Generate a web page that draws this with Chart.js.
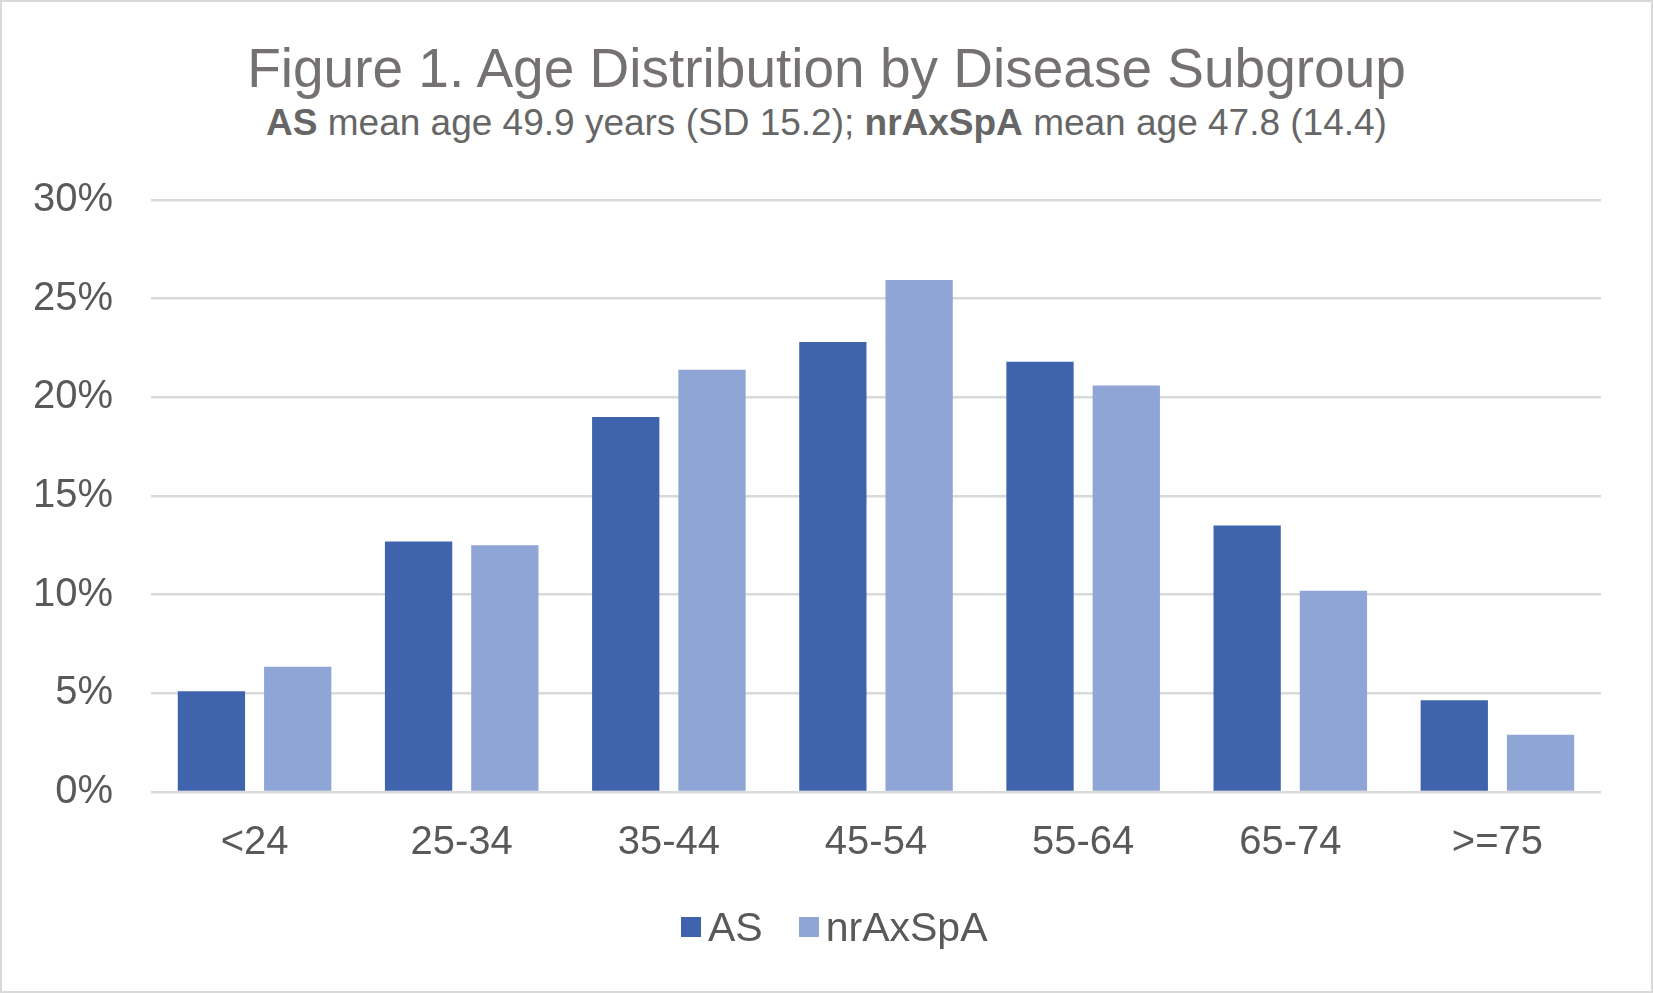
<!DOCTYPE html>
<html>
<head>
<meta charset="utf-8">
<script src="https://cdn.jsdelivr.net/npm/chart.js@4.4.1/dist/chart.umd.min.js"></script>
<style>
  html, body { margin: 0; padding: 0; background: #fff; }
  #frame {
    position: relative;
    width: 1653px;
    height: 993px;
    box-sizing: border-box;
    border: 2px solid #d9d9d9;
    overflow: hidden;
    font-family: "Liberation Sans", Arial, sans-serif;
  }
  #title {
    position: absolute; left: 0; right: 0; top: 36px;
    text-align: center; font-size: 55px; line-height: 60px; color: #767171;
  }
  #subtitle {
    position: absolute; left: 0; right: 0; top: 99px;
    text-align: center; font-size: 37px; line-height: 44px; color: #666666;
  }
  #subtitle b { font-weight: bold; }
  #chart-wrap { position: absolute; left: -2px; top: -2px; width: 1653px; height: 993px; }
  #legend {
    position: absolute; left: 679px; top: 900px;
    display: flex; align-items: center;
    font-size: 41px; line-height: 50px; color: #595959;
  }
  #legend .item { display: flex; align-items: center; margin-right: 36px; }
  #legend .box { width: 20px; height: 20px; margin-right: 7px; }
</style>
</head>
<body>
<div id="frame">
  <div id="title">Figure 1. Age Distribution by Disease Subgroup</div>
  <div id="subtitle"><b>AS</b> mean age 49.9 years (SD 15.2); <b>nrAxSpA</b> mean age 47.8 (14.4)</div>
  <div id="chart-wrap"><canvas id="ageChart"></canvas></div>
  <div id="legend"></div>
</div>
<script>
const ageGroups = ["<24", "25-34", "35-44", "45-54", "55-64", "65-74", ">=75"];
const asValues = [5.1, 12.7, 19.0, 22.8, 21.8, 13.5, 4.65];
const nrAxSpAValues = [6.35, 12.5, 21.4, 25.95, 20.6, 10.2, 2.9];
const yTicks = [0, 5, 10, 15, 20, 25, 30];

const labelFont = { family: "'Liberation Sans', Arial, sans-serif", size: 40 };

const ctx = document.getElementById("ageChart").getContext("2d");
const ageChart = new Chart(ctx, {
  type: 'bar',
  data: {
    labels: ageGroups,
    datasets: [
      {
        label: 'AS',
        data: asValues,
        backgroundColor: '#3f64ad',
        categoryPercentage: 0.833,
        barPercentage: 0.78
      },
      {
        label: 'nrAxSpA',
        data: nrAxSpAValues,
        backgroundColor: '#8fa5d5',
        categoryPercentage: 0.833,
        barPercentage: 0.78
      }
    ]
  },
  options: {
    responsive: true,
    maintainAspectRatio: false,
    animation: false,
    devicePixelRatio: 1,
    layout: {
      padding: { top: 200, right: 52, bottom: 119, left: 0 }
    },
    plugins: {
      legend: { display: false },
      tooltip: { enabled: false }
    },
    scales: {
      x: {
        afterFit: scale => { scale.height = 82; },
        grid: { display: false, drawTicks: false },
        border: { display: false },
        ticks: {
          color: '#595959',
          font: labelFont,
          padding: 27,
          maxRotation: 0
        }
      },
      y: {
        min: 0,
        max: 30,
        afterFit: scale => { scale.width = 151; },
        afterBuildTicks: scale => { scale.ticks = yTicks.map(v => ({ value: v })); },
        grid: { color: '#d9d9d9', lineWidth: 2.5, drawTicks: false },
        border: { display: false },
        ticks: {
          color: '#595959',
          font: labelFont,
          padding: 38,
          callback: value => value + '%'
        }
      }
    }
  }
});

// legend built from the chart's own datasets (tighter box/text gap than the built-in one)
const legendEl = document.getElementById("legend");
ageChart.data.datasets.forEach(ds => {
  const item = document.createElement("div");
  item.className = "item";
  const box = document.createElement("span");
  box.className = "box";
  box.style.background = ds.backgroundColor;
  const text = document.createElement("span");
  text.textContent = ds.label;
  item.appendChild(box);
  item.appendChild(text);
  legendEl.appendChild(item);
});
</script>
</body>
</html>
